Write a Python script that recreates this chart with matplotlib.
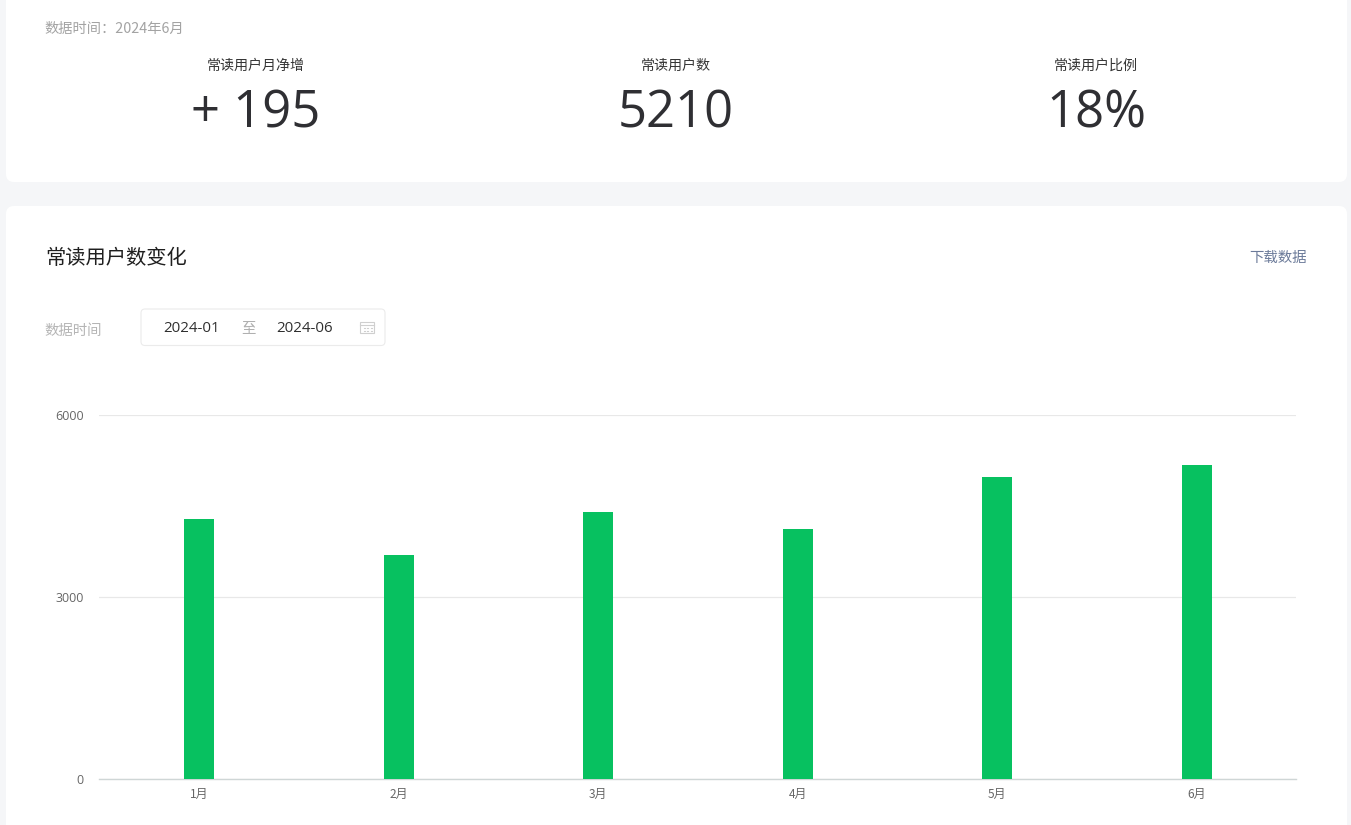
"""Rebuild of the regular-reader stats page: summary card on top, monthly bar chart below."""
import matplotlib
matplotlib.use("Agg")
import matplotlib.pyplot as plt
from matplotlib.patches import FancyBboxPatch, Rectangle

plt.rcParams["font.family"] = ["Noto Sans CJK SC", "DejaVu Sans"]

W, H = 1351, 825

months = ["1月", "2月", "3月", "4月", "5月", "6月"]
readers = [4290, 3695, 4405, 4125, 4980, 5180]
y_ticks = [0, 3000, 6000]

stat_labels = ["常读用户月净增", "常读用户数", "常读用户比例"]
stat_values = ["+ 195", "5210", "18%"]
stat_x = [256, 676, 1096]

BG = "#f5f6f8"
GREEN = "#07c160"
LATIN = ["Open Sans", "DejaVu Sans"]


def px_axes(fig, left, top, right, bottom):
    return fig.add_axes([left / W, 1 - bottom / H, (right - left) / W, (bottom - top) / H])


fig = plt.figure(figsize=(W / 100, H / 100), dpi=100, facecolor=BG)

# page chrome, in pixel coordinates
bg = fig.add_axes([0, 0, 1, 1])
bg.set_xlim(0, W)
bg.set_ylim(H, 0)
bg.axis("off")

for x0, y0, x1, y1 in [(6, -20, 1347, 182), (6, 206, 1347, 850)]:
    bg.add_patch(FancyBboxPatch((x0 + 8, y0 + 8), x1 - x0 - 16, y1 - y0 - 16,
                                boxstyle="round,pad=8,rounding_size=8",
                                fc="white", ec="none"))

bg.text(44.5, 29, "数据时间：2024年6月", fontsize=10.3, color="#a3a3a3", va="center")
for x, lab, val in zip(stat_x, stat_labels, stat_values):
    bg.text(x, 66, lab, fontsize=10.1, color="#353535", ha="center", va="center")
    bg.text(x, 114, val, fontsize=36.5, color="#2f2f33", ha="center", va="center",
            family=LATIN)

bg.text(45, 258.5, "常读用户数变化", fontsize=14.6, color="#1f1f1f", va="center")
bg.text(1307, 258, "下载数据", fontsize=10.4, color="#6b7a99", ha="right", va="center")
bg.text(44.5, 330.5, "数据时间", fontsize=10.4, color="#b5b5b5", va="center")

# date range picker
bg.add_patch(FancyBboxPatch((145, 313), 236, 28.5, boxstyle="round,pad=4,rounding_size=4",
                            fc="white", ec="#ebebeb", lw=0.8))
bg.text(192, 328, "2024-01", fontsize=10.8, color="#2f2f2f", ha="center", va="center",
        family=LATIN)
bg.text(248.5, 328.5, "至", fontsize=10.4, color="#b0b0b0", ha="center", va="center")
bg.text(304.5, 328, "2024-06", fontsize=10.8, color="#2f2f2f", ha="center", va="center",
        family=LATIN)
bg.add_patch(Rectangle((360, 322), 14, 10.5, fc="white", ec="#cfcfcf", lw=0.8))
bg.plot([360, 374], [325, 325], color="#cfcfcf", lw=0.8)
for gx in (363.5, 367, 370.5):
    bg.plot([gx, gx + 1], [328, 328], color="#cfcfcf", lw=0.8)
    bg.plot([gx, gx + 1], [330.5, 330.5], color="#cfcfcf", lw=0.8)

# chart
ax = px_axes(fig, 99.2, 415.0, 1296.4, 779.2)
ax.patch.set_alpha(0)
ax.bar(range(len(months)), readers, width=30 / (1197.2 / 6), color=GREEN, zorder=3)
ax.set_xlim(-0.5, 5.5)
ax.set_ylim(0, 6000)
ax.set_yticks(y_ticks)
ax.set_xticks(range(len(months)))
ax.set_xticklabels(months)
ax.grid(axis="y", color="#e8e8e8", lw=0.9, zorder=0)
ax.set_axisbelow(True)
for name, s in ax.spines.items():
    s.set_visible(name == "bottom")
ax.spines["bottom"].set_color("#cfd6d6")
ax.spines["bottom"].set_linewidth(1.0)
ax.tick_params(axis="both", length=0, labelcolor="#666666")
ax.tick_params(axis="x", pad=6.5, labelsize=8.6)
ax.tick_params(axis="y", pad=11, labelsize=9)
for t in ax.get_yticklabels():
    t.set_family(LATIN)

fig.savefig("out.png", dpi=100, facecolor=BG)
